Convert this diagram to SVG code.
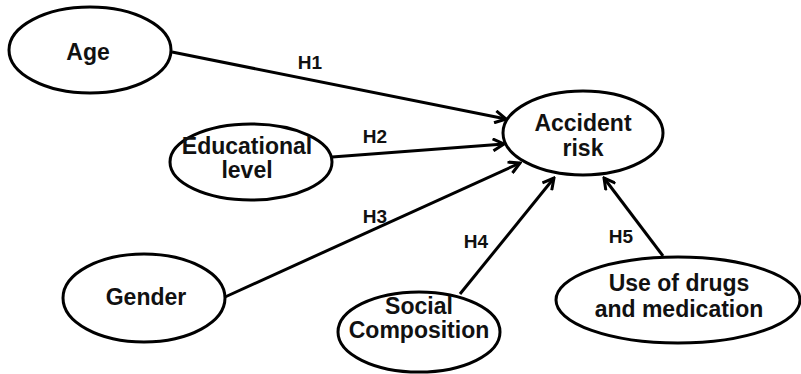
<svg xmlns="http://www.w3.org/2000/svg" width="801" height="374" viewBox="0 0 801 374">
<style>
.n ellipse{fill:#fff;stroke:#000;stroke-width:3}
.t{font-family:"Liberation Sans",Arial,sans-serif;font-weight:bold;font-size:23px;fill:#111;text-anchor:middle}
.h{font-family:"Liberation Sans",Arial,sans-serif;font-weight:bold;font-size:19px;fill:#111;text-anchor:middle}
.e line{stroke:#000;stroke-width:3}
</style>
<defs>
<marker id="ar" viewBox="0 0 14 14" refX="12" refY="7" markerWidth="14" markerHeight="14" markerUnits="userSpaceOnUse" orient="auto">
<path d="M1,1 L12,7 L1,13" fill="none" stroke="#000" stroke-width="3"/>
</marker>
</defs>
<rect width="801" height="374" fill="#fff"/>
<g class="e" id="connectors">
<line x1="172" y1="52" x2="506" y2="119" marker-end="url(#ar)"/>
<line x1="332" y1="157" x2="504" y2="144" marker-end="url(#ar)"/>
<line x1="225" y1="297" x2="520" y2="163" marker-end="url(#ar)"/>
<line x1="460" y1="294" x2="554" y2="178" marker-end="url(#ar)"/>
<line x1="663" y1="256" x2="604" y2="178" marker-end="url(#ar)"/>
<text class="h" x="310" y="69">H1</text>
<text class="h" x="375" y="143">H2</text>
<text class="h" x="375" y="223">H3</text>
<text class="h" x="476" y="248">H4</text>
<text class="h" x="621" y="243">H5</text>
</g>
<g class="n" id="age"><ellipse cx="90" cy="50" rx="81" ry="43"/><text class="t" x="88" y="60">Age</text></g>
<g class="n" id="accident"><ellipse cx="583" cy="133" rx="80" ry="42"/><text class="t" x="583" y="131">Accident</text><text class="t" x="583" y="156">risk</text></g>
<g class="n" id="education"><ellipse cx="251" cy="162" rx="81" ry="38"/><text class="t" x="247" y="154">Educational</text><text class="t" x="247" y="178">level</text></g>
<g class="n" id="gender"><ellipse cx="144" cy="298" rx="81" ry="44"/><text class="t" x="146" y="305">Gender</text></g>
<g class="n" id="social"><ellipse cx="419" cy="332" rx="81" ry="40"/><text class="t" x="419" y="314">Social</text><text class="t" x="419" y="338">Composition</text></g>
<g class="n" id="drugs"><ellipse cx="678" cy="300" rx="122" ry="43"/><text class="t" x="679" y="291">Use of drugs</text><text class="t" x="679" y="317">and medication</text></g>
</svg>
